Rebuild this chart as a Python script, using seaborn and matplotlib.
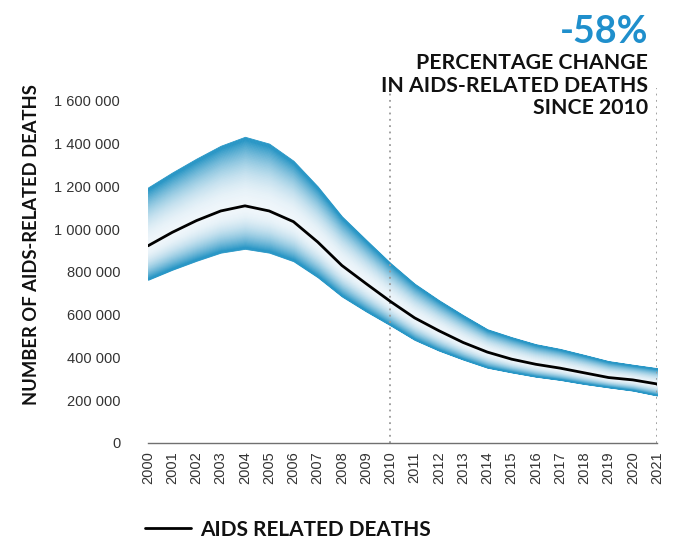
import numpy as np
import matplotlib
matplotlib.use("Agg")
import matplotlib.pyplot as plt
import seaborn as sns
from matplotlib.colors import to_rgb

# data
years = list(range(2000, 2022))
deaths = [922000, 985000, 1040000, 1085000, 1109000, 1085000, 1035000, 940000,
          830000, 745000, 662000, 585000, 525000, 470000, 425000, 392000,
          368000, 350000, 328000, 306000, 295000, 276000]
upper = [1195000, 1265000, 1330000, 1390000, 1432000, 1400000, 1320000, 1200000,
         1060000, 950000, 842000, 745000, 668000, 598000, 532000, 495000,
         462000, 440000, 412000, 383000, 366000, 350000]
lower = [763000, 810000, 852000, 890000, 908000, 890000, 850000, 775000,
         685000, 615000, 550000, 482000, 432000, 390000, 352000, 330000,
         310000, 295000, 276000, 260000, 245000, 222000]
ytick_vals = [0, 200000, 400000, 600000, 800000, 1000000, 1200000, 1400000, 1600000]
headline = "-58%"
subtitle = "PERCENTAGE CHANGE\nIN AIDS-RELATED DEATHS\nSINCE 2010"

sns.set_style("white")
plt.rcParams['font.family'] = ['Liberation Sans', 'DejaVu Sans']

fig = plt.figure(figsize=(6.89, 5.42), dpi=100)
ax = fig.add_axes([0.2148, 0.1827, 0.7388, 0.6549])

yrs = np.array(years, dtype=float)
mid = np.array(deaths, dtype=float)
up = np.array(upper, dtype=float)
lo = np.array(lower, dtype=float)

# gradient band: white near the line, blue towards the edges
blue = np.array(to_rgb("#2a97c6"))
white = np.array(to_rgb("#f6f9fc"))
n = 40
edges = np.linspace(0, 1, n + 1)
for i in range(n):
    t = (edges[i] + edges[i + 1]) / 2
    f = min(1.0, 0.03 + 1.05 * t ** 2.2)
    c = white * (1 - f) + blue * f
    for bound in (up, lo):
        a = mid + (bound - mid) * edges[i]
        b = mid + (bound - mid) * edges[i + 1]
        ax.fill_between(yrs, a, b, color=c, lw=0.6, edgecolor=c, zorder=1)

sns.lineplot(x=years, y=deaths, color="black", lw=2, ax=ax, zorder=3,
             label="AIDS RELATED DEATHS")

for yr in (2010, 2021):
    ax.axvline(yr, color="#9a9a9a", ls=(0, (1, 2.5)), lw=1.3, zorder=2)

ax.set_xlim(2000, 2021)
ax.set_ylim(0, 1660000)
ax.set_xticks(years)
ax.set_xticklabels([str(y) for y in years], rotation=90, fontsize=10.5, color="#333333")
ax.set_yticks(ytick_vals)
ax.set_yticklabels([f"{v:,}".replace(",", " ") for v in ytick_vals], fontsize=10.5, color="#333333")
ax.tick_params(axis="both", length=0)
ax.tick_params(axis="y", pad=20)
ax.tick_params(axis="x", pad=6)
for s in ("top", "right", "left"):
    ax.spines[s].set_visible(False)
ax.spines["bottom"].set_color("#707070")
ax.spines["bottom"].set_linewidth(1)
ax.set_xlabel("")
ax.set_ylabel("")

fig.text(0.045, 0.548, "NUMBER OF AIDS-RELATED DEATHS", rotation=90, ha="center",
         va="center", fontsize=13.2, fontweight="bold", family=["Lato", "DejaVu Sans"], color="#111111")

fig.text(0.941, 0.973, headline, ha="right", va="top", fontsize=27, fontweight="bold",
         color="#1f8fcc", family=["Lato", "DejaVu Sans"])
fig.text(0.941, 0.789, subtitle, ha="right", va="baseline", fontsize=15.3,
         fontweight="bold", linespacing=1.17, family=["Lato", "DejaVu Sans"], color="#111111")

ax.get_legend().remove()
handles, labels = ax.get_legend_handles_labels()
leg = fig.legend(handles, labels, loc="lower left", bbox_to_anchor=(0.183, -0.03),
                 frameon=False, handlelength=2.2, handletextpad=0.45,
                 prop={"family": ["Lato", "DejaVu Sans"], "size": 15, "weight": "bold"})
for t in leg.get_texts():
    t.set_color("#111111")

fig.savefig("out.png", dpi=100)
